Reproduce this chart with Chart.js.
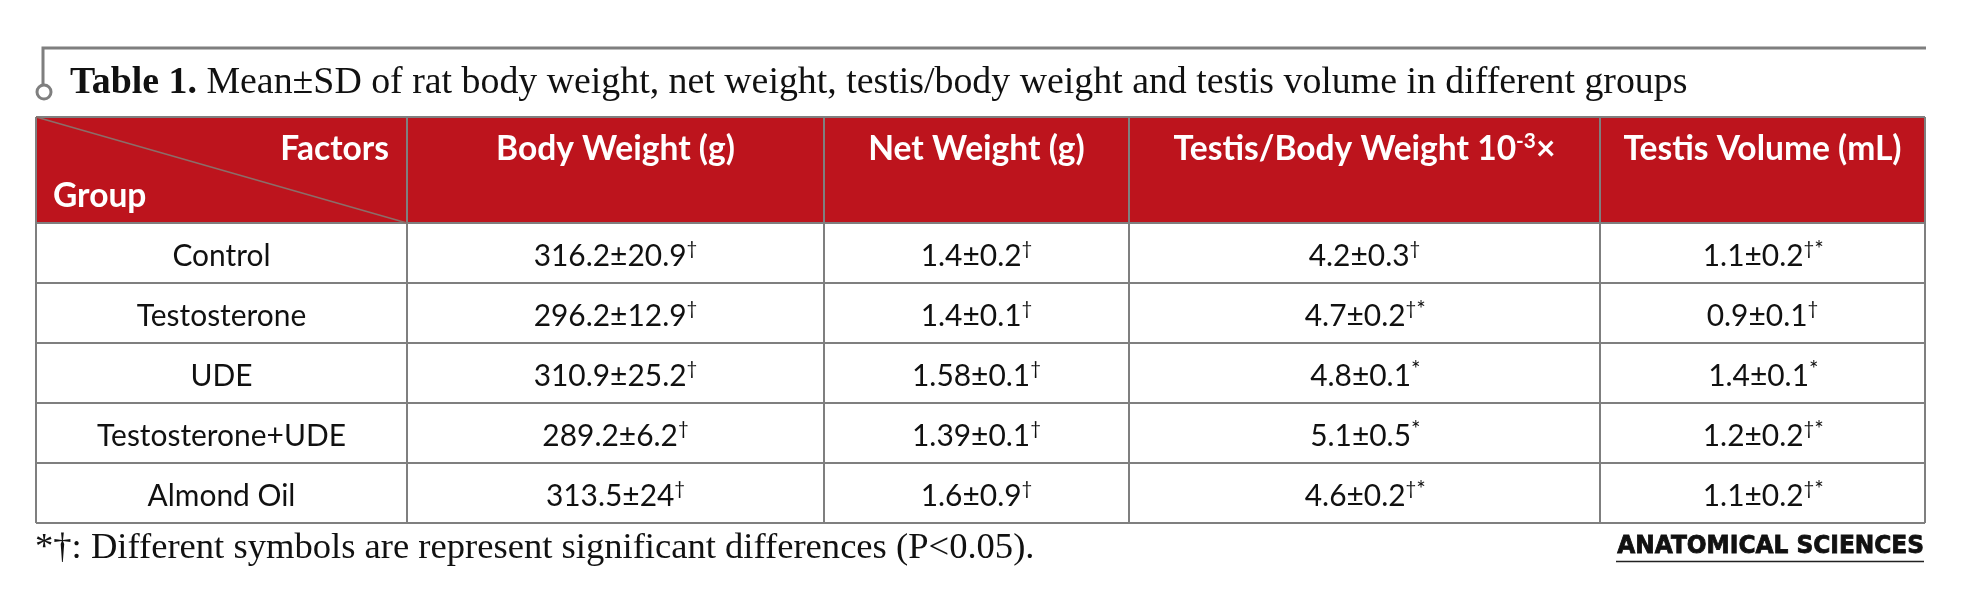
<!DOCTYPE html>
<html>
<head>
<meta charset="utf-8">
<script src="https://cdn.jsdelivr.net/npm/chart.js@4.4.1/dist/chart.umd.min.js"></script>
<style>
  html, body { margin: 0; padding: 0; background: #fff; }
  #wrap { width: 1961px; height: 596px; position: relative; }
</style>
</head>
<body>
<div id="wrap"><canvas id="js--table--1"></canvas></div>
<script>
// table content
const groups = ['Control', 'Testosterone', 'UDE', 'Testosterone+UDE', 'Almond Oil'];
const factors = ['Body Weight (g)', 'Net Weight (g)', 'Testis/Body Weight 10^-3^×', 'Testis Volume (mL)'];

const bodyWeightMean = [316.2, 296.2, 310.9, 289.2, 313.5];
const bodyWeightSD = [20.9, 12.9, 25.2, 6.2, 24];
const bodyWeightSig = ['†', '†', '†', '†', '†'];

const netWeightMean = [1.4, 1.4, 1.58, 1.39, 1.6];
const netWeightSD = [0.2, 0.1, 0.1, 0.1, 0.9];
const netWeightSig = ['†', '†', '†', '†', '†'];

const ratioMean = [4.2, 4.7, 4.8, 5.1, 4.6];
const ratioSD = [0.3, 0.2, 0.1, 0.5, 0.2];
const ratioSig = ['†', '†*', '*', '*', '†*'];

const volumeMean = [1.1, 0.9, 1.4, 1.2, 1.1];
const volumeSD = [0.2, 0.1, 0.1, 0.2, 0.2];
const volumeSig = ['†*', '†', '*', '†*', '†*'];

const titleBold = 'Table 1.';
const titleText = ' Mean±SD of rat body weight, net weight, testis/body weight and testis volume in different groups';
const footnote = '*†: Different symbols are represent significant differences (P<0.05).';
const journal = 'ANATOMICAL SCIENCES';

// layout (scale units)
const colEdges = [0, 371, 788, 1093, 1564, 1889];
const rowEdges = [0, 106, 166, 226, 286, 346, 406];

const headerRed = '#bd141d';
const lineColor = '#7f7f7f';
const sansFont = 'Lato, "Open Sans", sans-serif';
const serifFont = '"Liberation Serif", "DejaVu Serif", serif';

function cellString(mean, sd, sig) {
  return mean.map((m, i) => `${m}±${sd[i]}^${sig[i]}^`);
}

const columns = [
  groups,
  cellString(bodyWeightMean, bodyWeightSD, bodyWeightSig),
  cellString(netWeightMean, netWeightSD, netWeightSig),
  cellString(ratioMean, ratioSD, ratioSig),
  cellString(volumeMean, volumeSD, volumeSig)
];

function fitSize(ctx, text, weight, family, target) {
  ctx.font = `${weight} 100px ${family}`;
  return 100 * target / ctx.measureText(text).width;
}

// draws text with ^superscript^ parts
function drawRich(ctx, str, x, y, size, weight, family, align) {
  const parts = str.split('^');
  const supSize = size * 0.62;
  const font = s => `${weight} ${s}px ${family}`;
  let total = 0;
  parts.forEach((p, i) => {
    ctx.font = font(i % 2 ? supSize : size);
    total += ctx.measureText(p).width;
  });
  let cx = x;
  if (align === 'center') cx = x - total / 2;
  if (align === 'right') cx = x - total;
  ctx.textAlign = 'left';
  ctx.textBaseline = 'alphabetic';
  parts.forEach((p, i) => {
    const sup = i % 2 === 1;
    ctx.font = font(sup ? supSize : size);
    // the asterisk sits low in Lato, so lift it a bit more
    let yy = sup ? y - size * 0.36 : y;
    if (sup && p.includes('*')) {
      let px = cx;
      for (const ch of p) {
        if (ch === '*') {
          ctx.font = font(size * 0.75);
          ctx.fillText(ch, px, y - size * 0.3);
          px += ctx.measureText(ch).width;
          ctx.font = font(supSize);
        } else {
          ctx.fillText(ch, px, yy);
          px += ctx.measureText(ch).width;
        }
      }
      cx += ctx.measureText(p).width;
      return;
    }
    ctx.fillText(p, cx, yy);
    cx += ctx.measureText(p).width;
  });
}

const tablePlugin = {
  id: 'tableDraw',
  beforeDraw(chart) {
    const { ctx, scales: { x, y } } = chart;
    ctx.save();
    ctx.fillStyle = '#fff';
    ctx.fillRect(0, 0, chart.width, chart.height);
    const left = x.getPixelForValue(colEdges[0]);
    const right = x.getPixelForValue(colEdges[colEdges.length - 1]);
    const top = y.getPixelForValue(rowEdges[0]);
    const bottom = y.getPixelForValue(rowEdges[1]);
    ctx.fillStyle = headerRed;
    ctx.fillRect(left, top, right - left, bottom - top);
    ctx.restore();
  },
  afterDraw(chart) {
    const { ctx, scales: { x, y } } = chart;
    ctx.save();

    // diagonal in the corner cell
    ctx.strokeStyle = '#8c6d68';
    ctx.lineWidth = 1.6;
    ctx.beginPath();
    ctx.moveTo(x.getPixelForValue(colEdges[0]), y.getPixelForValue(rowEdges[0]));
    ctx.lineTo(x.getPixelForValue(colEdges[1]), y.getPixelForValue(rowEdges[1]));
    ctx.stroke();

    // header labels
    const headSize = fitSize(ctx, 'Body Weight (g)', 'bold', sansFont, 239);
    ctx.fillStyle = '#fff';
    factors.forEach((f, i) => {
      const cx = x.getPixelForValue((colEdges[i + 1] + colEdges[i + 2]) / 2);
      drawRich(ctx, f, cx, y.getPixelForValue(43), headSize, 'bold', sansFont, 'center');
    });
    drawRich(ctx, 'Factors', x.getPixelForValue(353), y.getPixelForValue(43), headSize, 'bold', sansFont, 'right');
    drawRich(ctx, 'Group', x.getPixelForValue(17), y.getPixelForValue(90), headSize, 'bold', sansFont, 'left');

    // body cells, placed on the points of each column dataset
    const bodySize = fitSize(ctx, '316.2±20.9', 'normal', sansFont, 153);
    ctx.fillStyle = '#111';
    chart.data.datasets.forEach((ds, di) => {
      chart.getDatasetMeta(di).data.forEach((pt, i) => {
        drawRich(ctx, ds.cellText[i], pt.x, pt.y + bodySize * 0.36 + 2, bodySize, 'normal', sansFont, 'center');
      });
    });

    // title bracket
    const tableLeft = x.getPixelForValue(colEdges[0]);
    const tableRight = x.getPixelForValue(colEdges[colEdges.length - 1]);
    ctx.strokeStyle = lineColor;
    ctx.lineWidth = 3;
    ctx.beginPath();
    ctx.moveTo(tableLeft + 7, 85);
    ctx.lineTo(tableLeft + 7, 48);
    ctx.lineTo(tableRight + 1, 48);
    ctx.stroke();
    ctx.fillStyle = '#fff';
    ctx.beginPath();
    ctx.arc(tableLeft + 8, 92, 7, 0, Math.PI * 2);
    ctx.fill();
    ctx.stroke();

    // title
    ctx.font = `bold 100px ${serifFont}`;
    const wBold = ctx.measureText(titleBold).width;
    ctx.font = `normal 100px ${serifFont}`;
    const wRest = ctx.measureText(titleText).width;
    const titleSize = 100 * 1618 / (wBold + wRest);
    ctx.fillStyle = '#111';
    ctx.textAlign = 'left';
    ctx.textBaseline = 'alphabetic';
    ctx.font = `bold ${titleSize}px ${serifFont}`;
    ctx.fillText(titleBold, 70, 93);
    ctx.font = `normal ${titleSize}px ${serifFont}`;
    ctx.fillText(titleText, 70 + wBold * titleSize / 100, 93);

    // footnote
    const footSize = fitSize(ctx, footnote, 'normal', serifFont, 1000);
    ctx.font = `normal ${footSize}px ${serifFont}`;
    ctx.fillText(footnote, tableLeft - 1, 558);

    // journal mark, heavy and a little stretched
    const jFont = '"DejaVu Sans", sans-serif';
    const jSize = fitSize(ctx, journal, 'bold', jFont, 307);
    const stretch = 18 / (0.73 * jSize);
    ctx.save();
    ctx.translate(tableRight - 1, 553);
    ctx.scale(1, stretch);
    ctx.font = `bold ${jSize}px ${jFont}`;
    ctx.textAlign = 'right';
    ctx.fillStyle = '#111';
    ctx.strokeStyle = '#111';
    ctx.lineWidth = 0.8;
    ctx.fillText(journal, 0, 0);
    ctx.strokeText(journal, 0, 0);
    ctx.restore();
    ctx.strokeStyle = '#222';
    ctx.lineWidth = 1.5;
    ctx.beginPath();
    ctx.moveTo(tableRight - 309, 561.5);
    ctx.lineTo(tableRight - 1, 561.5);
    ctx.stroke();

    ctx.restore();
  }
};

const ctx = document.getElementById('js--table--1');

new Chart(ctx, {
  type: 'scatter',
  data: {
    datasets: columns.map((col, c) => ({
      label: c === 0 ? 'Group' : factors[c - 1],
      cellText: col,
      data: col.map((_, r) => ({
        x: (colEdges[c] + colEdges[c + 1]) / 2,
        y: (rowEdges[r + 1] + rowEdges[r + 2]) / 2
      })),
      pointRadius: 0,
      pointHoverRadius: 0
    }))
  },
  options: {
    responsive: true,
    maintainAspectRatio: false,
    animation: false,
    events: [],
    layout: { padding: { left: 36, right: 36, top: 117, bottom: 73 } },
    scales: {
      x: {
        type: 'linear',
        min: colEdges[0],
        max: colEdges[colEdges.length - 1],
        afterBuildTicks: axis => { axis.ticks = colEdges.map(v => ({ value: v })); },
        ticks: { display: false },
        grid: { color: lineColor, lineWidth: 2, drawTicks: false },
        border: { display: false }
      },
      y: {
        type: 'linear',
        reverse: true,
        min: rowEdges[0],
        max: rowEdges[rowEdges.length - 1],
        afterBuildTicks: axis => { axis.ticks = rowEdges.map(v => ({ value: v })); },
        ticks: { display: false },
        grid: { color: lineColor, lineWidth: 2, drawTicks: false },
        border: { display: false }
      }
    },
    plugins: {
      legend: { display: false },
      tooltip: { enabled: false }
    }
  },
  plugins: [tablePlugin]
});
</script>
</body>
</html>
